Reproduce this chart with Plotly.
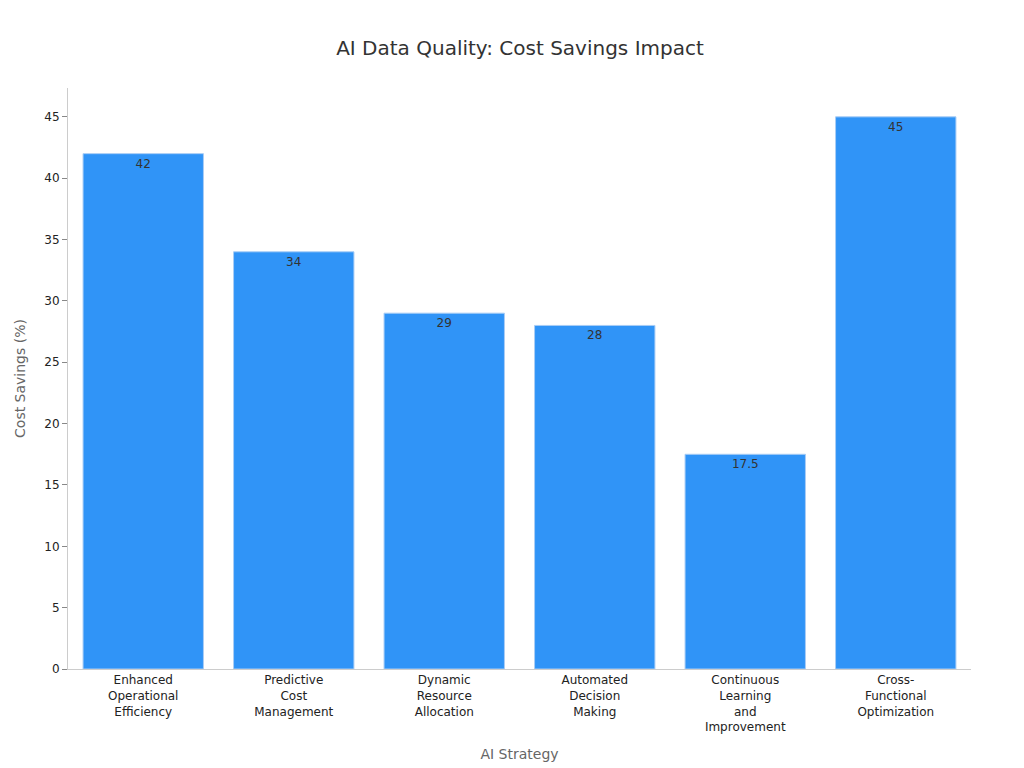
import plotly.graph_objects as go

strategies = [
    "Enhanced<br>Operational<br>Efficiency",
    "Predictive<br>Cost<br>Management",
    "Dynamic<br>Resource<br>Allocation",
    "Automated<br>Decision<br>Making",
    "Continuous<br>Learning<br>and<br>Improvement",
    "Cross-<br>Functional<br>Optimization",
]
savings = [42, 34, 29, 28, 17.5, 45]

fig = go.Figure(go.Bar(
    x=strategies, y=savings,
    text=[str(v) for v in savings],
    textposition="inside", insidetextanchor="end",
    textfont=dict(color="#333333", size=12),
    marker=dict(color="#3094f7", line=dict(color="#a9cdf5", width=1)),
    width=0.8,
))

fig.update_layout(
    width=1024, height=768,
    font=dict(family="DejaVu Sans", color="#222222", size=12),
    title=dict(text="AI Data Quality: Cost Savings Impact", x=0.5, y=0.957,
               font=dict(size=20, color="#333333")),
    plot_bgcolor="white", paper_bgcolor="white",
    margin=dict(l=60, r=61, t=80, b=107),
    showlegend=False,
)
fig.update_xaxes(title=dict(text="AI Strategy", font=dict(size=14, color="#666666")),
                 showline=True, linecolor="#cccccc", ticks="", tickfont=dict(size=12))
fig.update_yaxes(title=dict(text="Cost Savings (%)", font=dict(size=14, color="#666666")),
                 range=[0, 47.35], dtick=5, showline=True, linecolor="#cccccc",
                 ticks="outside", ticklen=5, tickcolor="#888888", showgrid=False,
                 zeroline=False)

fig.write_html("out.html")
